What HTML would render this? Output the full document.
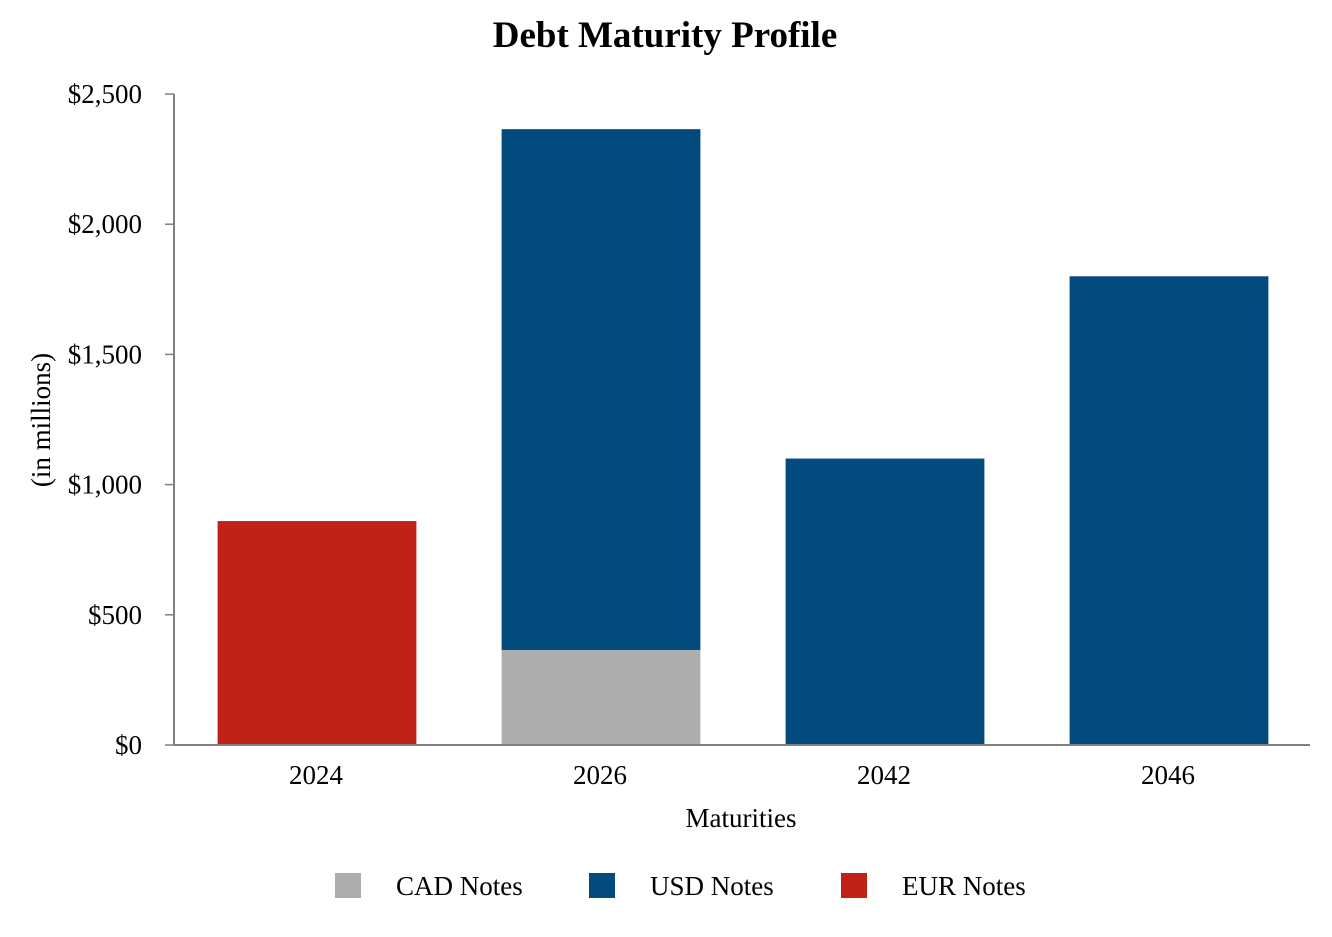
<!DOCTYPE html>
<html><head><meta charset="utf-8"><style>
body{margin:0;background:#fff;}
svg text{font-family:"Liberation Serif",serif;fill:#000;}
</style></head><body>
<svg id="chart" width="1332" height="932">
<text x="665" y="47" text-anchor="middle" font-size="37" font-weight="bold">Debt Maturity Profile</text>
<text transform="translate(50,420) rotate(-90)" text-anchor="middle" font-size="27">(in millions)</text>
<text x="741" y="827" text-anchor="middle" font-size="27">Maturities</text>
<g id="plot"></g>
<g>
<rect x="335" y="873" width="26" height="25" fill="#adadad"/>
<text x="396" y="895" font-size="27">CAD Notes</text>
<rect x="589" y="873" width="26" height="25" fill="#034a7e"/>
<text x="650" y="895" font-size="27">USD Notes</text>
<rect x="841" y="873" width="26" height="25" fill="#c02217"/>
<text x="902" y="895" font-size="27">EUR Notes</text>
</g>
</svg>
<script>
const categories=["2024","2026","2042","2046"];
const cadValues=[0,365,0,0];
const usdValues=[0,2000,1100,1800];
const eurValues=[860,0,0,0];
const yTicks=[0,500,1000,1500,2000,2500];
const yTickLabels=["$0","$500","$1,000","$1,500","$2,000","$2,500"];
const NS="http://www.w3.org/2000/svg";
const g=document.getElementById("plot");
const x0=174,x1=1310,yBase=745,yTop=94,yMax=2500;
const band=(x1-x0)/categories.length,barW=band*0.7;
const y=v=>yBase-(v/yMax)*(yBase-yTop);
const xc=i=>x0+band*(i+0.5)+1;
function mk(t,a){const e=document.createElementNS(NS,t);for(const k in a)e.setAttribute(k,a[k]);g.appendChild(e);return e;}
yTicks.forEach((v,i)=>{
 const l=mk("line",{x1:165,x2:x0,y1:y(v),y2:y(v),stroke:"#7f7f7f","stroke-width":1.5});
 
 
 const t=mk("text",{x:142,y:y(v)+9,"text-anchor":"end","font-size":27});
 t.textContent=yTickLabels[i];
 
 
});
categories.forEach((c,i)=>{
 let base=0;
 [[cadValues,"#adadad","cad"],[usdValues,"#034a7e","usd"],[eurValues,"#c02217","eur"]].forEach(([arr,col,nm])=>{
  const v=arr[i]; if(!v) return;
  const r=mk("rect",{x:xc(i)-barW/2,y:y(base+v),width:barW,height:y(base)-y(base+v),fill:col});
  
  
  base+=v;
 });
 const t=mk("text",{x:xc(i)-1,y:784,"text-anchor":"middle","font-size":27});
 t.textContent=c;
 
 
});
const ya=mk("line",{x1:x0,x2:x0,y1:yTop,y2:yBase,stroke:"#7f7f7f","stroke-width":2});


const xa=mk("line",{x1:x0,x2:x1,y1:yBase,y2:yBase,stroke:"#7f7f7f","stroke-width":2});


</script>
</body></html>
